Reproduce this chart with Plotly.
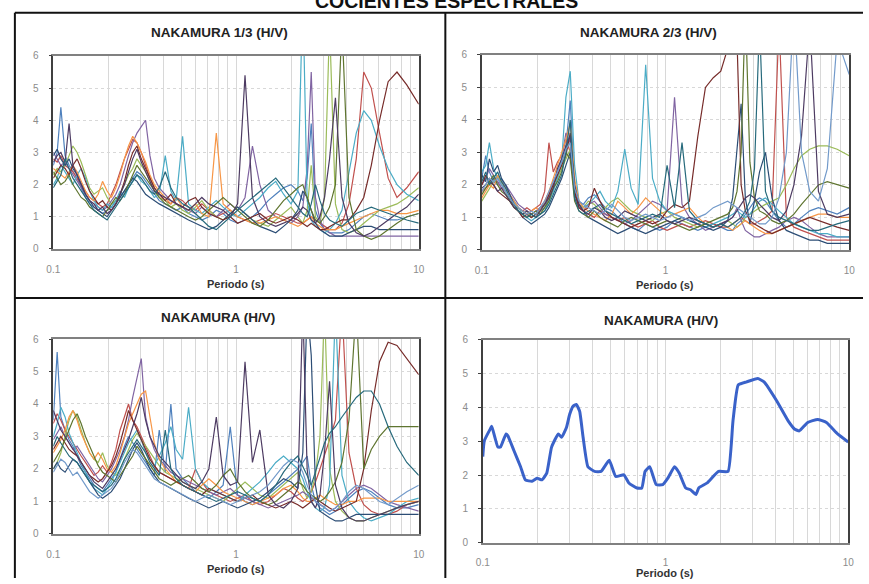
import plotly.graph_objects as go

# ---------------- DATA ----------------
PERIODS = [0.100,0.105,0.110,0.116,0.122,0.128,0.135,0.142,0.150,0.158,
           0.167,0.176,0.186,0.197,0.208,0.220,0.232,0.245,0.258,0.272,
           0.287,0.303,0.320,0.338,0.357,0.38,0.41,0.44,0.47,0.51,
           0.55,0.60,0.65,0.71,0.78,0.85,0.93,1.02,1.12,1.23,
           1.35,1.50,1.65,1.82,2.00,2.18,2.32,2.45,2.58,2.72,
           2.88,3.05,3.25,3.50,3.80,4.15,4.55,5.00,5.50,6.10,
           6.80,7.60,8.60,10.0]

# Panel 1: NAKAMURA 1/3 (H/V)
P1_A = [2.6,3.0,4.4,2.9,2.6,2.4,2.2,1.9,1.6,1.4, 1.3,1.2,1.1,1.2,1.3,1.5,1.6,1.8,2.0,2.2,
        2.4,2.3,2.1,1.9,1.7,1.5,1.4,1.3,1.2,1.3, 1.1,1.0,0.9,1.0,1.2,1.1,0.9,0.8,0.9,1.0,
        1.2,1.5,1.7,1.9,2.0,1.8,1.5,2.2,3.9,1.2, 0.8,0.6,0.5,0.5,0.5,0.6,0.8,1.0,1.1,1.0,
        0.9,0.9,1.0,1.1]
P1_B = [2.8,2.7,2.9,2.6,2.5,2.4,2.2,2.0,1.8,1.6, 1.5,1.4,1.3,1.4,1.7,2.0,2.4,2.8,3.1,3.4,
        3.3,3.0,2.6,2.2,1.9,1.7,1.5,1.4,1.6,1.5, 1.3,1.2,1.4,1.2,1.0,1.1,1.2,1.0,0.9,0.8,
        0.9,1.0,1.1,1.0,0.9,0.8,0.8,0.9,1.0,0.9, 0.8,0.7,0.6,0.6,0.8,1.4,2.8,5.5,5.0,3.6,
        2.2,1.6,1.9,2.4]
P1_C = [2.3,2.5,2.4,2.6,2.9,3.2,3.0,2.7,2.3,1.9, 1.7,1.8,1.9,1.6,1.4,1.5,1.7,2.0,2.3,2.5,
        2.8,2.6,2.4,2.1,1.8,1.6,1.5,1.3,1.4,1.2, 1.1,1.3,1.5,1.2,1.0,0.9,1.1,1.3,1.1,0.9,
        0.8,0.7,0.9,1.1,1.3,1.0,0.8,1.2,2.6,1.0, 0.8,1.6,7.0,1.4,0.6,0.5,0.6,0.8,1.0,1.2,
        1.3,1.4,1.6,1.9]
P1_D = [3.0,2.8,2.6,2.7,2.5,2.3,2.1,1.9,1.7,1.5, 1.4,1.3,1.2,1.3,1.5,1.7,2.0,2.5,2.9,3.3,
        3.6,3.8,4.0,2.9,2.2,1.9,1.7,1.5,1.4,1.3, 1.2,1.1,1.3,1.1,1.0,1.2,1.4,1.2,1.6,3.2,
        2.0,1.2,1.0,0.9,0.8,1.0,1.3,2.5,5.5,1.6, 0.9,0.6,0.5,0.4,0.4,0.4,0.4,0.4,0.4,0.4,
        0.4,0.4,0.4,0.4]
P1_E = [2.0,2.2,2.6,2.4,2.2,2.0,2.3,2.5,2.2,1.8, 1.5,1.3,1.2,1.4,1.3,1.5,1.8,1.6,1.9,2.1,
        2.3,2.1,2.0,1.8,1.6,1.7,2.9,1.8,1.5,3.5, 1.4,1.2,1.1,1.3,1.5,1.3,1.1,1.0,1.2,1.4,
        1.6,1.9,2.1,1.7,1.4,1.8,8.0,1.5,0.9,0.7, 0.6,0.5,0.6,0.8,1.2,2.4,3.6,4.3,4.0,3.2,
        2.5,2.0,1.7,1.5]
P1_F = [2.5,2.4,2.3,2.2,2.4,2.6,2.4,2.1,1.8,1.6, 1.5,1.7,2.1,1.8,1.6,1.9,2.3,2.8,3.2,3.5,
        3.3,3.0,2.7,2.3,2.0,1.8,1.6,1.4,1.6,1.3, 1.2,1.4,1.1,1.0,3.6,1.4,1.2,1.0,0.9,0.8,
        0.8,0.9,1.0,0.9,0.8,0.7,0.8,0.9,1.0,0.8, 0.7,0.6,0.6,0.6,0.7,0.8,0.9,1.0,1.1,1.2,
        1.2,1.1,1.1,1.2]
P1_G = [2.9,3.1,2.8,2.6,2.8,2.5,2.3,2.0,1.7,1.5, 1.3,1.2,1.1,1.0,1.2,1.4,1.6,1.8,2.0,2.2,
        2.1,1.9,1.7,1.6,1.5,1.4,1.3,1.2,1.1,1.0, 0.9,0.8,0.7,0.6,0.7,0.9,1.1,1.3,1.1,0.9,
        0.7,0.6,0.5,0.7,0.9,1.2,1.8,1.6,1.2,0.8, 0.6,0.5,0.4,0.4,0.4,0.5,0.6,0.7,0.7,0.6,
        0.6,0.6,0.6,0.6]
P1_H = [2.2,2.4,2.6,2.5,2.3,2.6,2.8,2.5,2.1,1.8, 1.6,1.4,1.5,1.3,1.2,1.4,1.7,2.1,2.6,3.0,
        3.2,2.8,2.5,2.2,1.9,1.7,1.5,1.7,1.4,1.3, 1.5,1.6,1.3,1.1,1.0,0.9,1.0,0.8,0.9,1.0,
        1.1,0.9,0.8,0.9,1.0,0.9,0.8,0.7,0.8,0.7, 0.6,0.6,0.7,0.8,0.9,0.9,1.2,1.6,2.6,4.0,
        5.2,5.5,5.1,4.5]
P1_I = [2.4,2.2,2.0,2.1,2.3,2.0,1.8,1.6,1.5,1.3, 1.2,1.1,1.0,1.2,1.4,1.6,1.5,1.7,2.0,2.3,
        2.6,2.4,2.2,2.0,1.8,1.6,1.4,1.3,1.2,1.1, 1.0,0.9,1.0,1.2,1.4,1.6,1.4,1.2,1.0,0.8,
        0.7,0.9,1.2,1.5,1.7,1.9,2.0,1.6,1.2,0.9, 0.8,1.0,1.3,2.0,7.0,1.6,0.6,0.4,0.3,0.4,
        0.6,0.8,1.0,1.1]
P1_J = [2.7,2.9,3.0,2.7,3.9,2.6,2.3,2.0,1.7,1.5, 1.4,1.2,1.3,1.1,1.2,1.4,1.7,2.0,2.4,2.8,
        3.1,2.7,2.4,2.1,1.8,1.7,1.6,1.5,1.4,1.3, 1.2,1.4,1.6,1.4,1.3,1.2,1.0,1.4,5.4,1.6,
        1.0,0.8,0.7,0.8,0.9,1.1,1.3,1.2,0.9,0.8, 1.0,1.6,2.8,4.7,1.6,0.8,0.5,0.4,0.5,0.7,
        0.9,1.1,1.3,1.7]
P1_K = [1.9,2.1,2.3,2.8,2.5,2.2,2.0,1.8,1.6,1.4, 1.2,1.1,1.0,0.9,1.1,1.3,1.5,1.7,1.9,2.1,
        2.3,2.2,2.0,1.8,1.7,1.9,2.4,1.9,1.6,1.4, 1.3,1.1,0.9,0.7,0.6,0.8,1.0,1.2,1.4,1.6,
        1.8,2.0,2.2,1.9,1.6,1.3,1.1,1.0,1.4,2.0, 1.5,1.1,0.9,0.8,0.7,0.9,1.1,1.2,1.3,1.2,
        1.1,1.0,0.9,0.8]

# Panel 2: NAKAMURA 2/3 (H/V)
P2_A = [2.2,2.9,2.4,2.1,2.0,2.2,1.9,1.7,1.5,1.3, 1.2,1.1,1.0,1.1,1.2,1.3,1.6,1.9,2.3,2.6,
        3.2,4.6,2.0,1.5,1.4,1.6,1.7,1.5,1.3,1.2, 1.0,0.8,0.7,0.6,0.8,0.7,0.6,0.7,0.9,0.8,
        0.7,0.6,0.7,0.8,0.7,0.6,0.6,0.8,0.9,1.1, 1.3,1.5,1.6,1.5,1.2,0.9,0.7,0.8,1.0,1.2,
        1.3,1.2,1.1,1.3]
P2_B = [1.8,1.9,2.0,2.2,2.1,1.9,1.8,1.6,1.4,1.3, 1.2,1.3,1.2,1.3,1.4,1.8,3.3,2.4,2.7,2.9,
        3.4,3.0,1.8,1.3,1.2,1.1,1.0,1.2,1.1,1.0, 0.9,1.0,0.8,0.7,0.8,0.9,0.7,0.6,0.7,0.8,
        0.7,0.8,0.9,0.8,0.7,0.7,0.8,0.9,1.0,0.9, 0.8,0.8,0.9,1.0,1.2,7.0,1.0,0.7,0.6,0.5,
        0.4,0.3,0.3,0.3]
P2_C = [1.5,1.7,1.9,2.1,2.3,2.0,1.8,1.5,1.3,1.2, 1.1,1.2,1.0,1.1,1.2,1.4,1.6,2.0,2.2,2.5,
        2.8,3.1,1.7,1.4,1.3,1.5,1.4,1.2,1.3,1.5, 1.6,1.4,1.2,1.1,1.0,0.9,1.1,1.2,1.0,0.9,
        0.8,0.7,0.8,0.7,0.8,0.9,0.8,0.7,0.8,1.0, 1.1,1.2,1.3,1.4,1.5,1.6,2.0,2.5,2.9,3.1,
        3.2,3.2,3.1,2.9]
P2_D = [2.0,2.2,2.5,2.3,2.1,1.9,2.0,1.8,1.6,1.4, 1.3,1.2,1.1,1.2,1.3,1.5,1.7,2.1,2.4,2.8,
        3.6,3.3,1.6,1.3,1.2,1.4,1.5,1.3,1.1,1.0, 0.9,0.8,0.9,1.1,1.3,1.5,1.4,1.2,4.7,1.4,
        1.0,0.8,0.6,0.7,0.8,0.9,1.0,1.3,0.9,0.6, 0.5,0.4,0.4,0.5,0.6,0.7,0.9,1.0,0.9,0.7,
        0.5,0.4,0.4,0.4]
P2_E = [2.4,2.6,3.3,2.5,2.2,2.0,1.8,1.6,1.5,1.3, 1.1,1.0,0.9,1.0,1.1,1.2,1.5,1.8,2.2,2.7,
        4.7,5.5,2.6,1.5,1.3,1.4,1.6,1.8,1.5,1.3, 1.8,3.1,1.9,1.4,5.7,2.2,1.5,1.2,1.1,1.0,
        0.9,0.8,0.7,0.8,0.9,1.0,1.1,1.2,1.1,1.0, 1.1,1.3,1.5,1.6,1.4,1.2,1.0,0.8,0.7,0.6,
        0.5,0.5,0.4,0.4]
P2_F = [1.6,1.8,2.0,1.9,2.3,2.1,1.9,1.7,1.5,1.3, 1.2,1.1,1.2,1.3,1.2,1.5,1.8,2.2,2.6,3.0,
        3.4,3.9,2.2,1.5,1.3,1.2,1.1,1.0,0.9,1.1, 1.5,1.3,1.1,1.3,1.6,1.4,1.2,1.0,1.1,1.2,
        1.3,1.0,0.8,0.7,0.8,0.7,0.6,0.7,0.8,0.9, 0.8,0.7,0.6,0.5,0.5,0.6,0.7,0.8,0.9,1.0,
        1.1,1.1,1.0,1.0]
P2_G = [2.3,2.1,2.8,2.4,2.6,2.2,2.0,1.7,1.4,1.2, 1.0,0.9,0.8,0.9,1.0,1.1,1.3,1.6,1.9,2.2,
        2.6,3.0,1.7,1.4,1.2,1.0,0.9,0.8,0.7,0.6, 0.5,0.6,0.7,0.6,0.5,0.6,0.7,0.8,0.9,1.0,
        0.9,0.8,0.7,0.6,0.7,0.9,1.6,3.2,4.5,1.6, 0.8,1.5,2.4,3.0,1.6,0.9,0.6,0.5,0.4,0.3,
        0.3,0.2,0.2,0.2]
P2_H = [2.0,2.3,2.1,2.0,1.8,1.7,1.6,1.5,1.3,1.2, 1.0,1.1,1.0,1.1,1.3,1.4,1.7,2.0,2.3,2.6,
        2.9,3.6,1.8,1.3,1.2,1.3,1.9,1.5,1.2,1.0, 0.9,0.8,0.7,0.8,0.9,0.8,0.9,1.2,1.4,1.3,
        1.5,3.5,5.0,5.3,5.5,6.2,7.0,6.5,2.0,1.2, 0.9,0.8,0.7,0.6,0.5,0.6,0.7,0.8,0.9,1.0,
        0.9,0.8,0.7,0.6]
P2_I = [1.7,1.9,2.1,2.3,2.0,1.8,1.7,1.5,1.4,1.2, 1.1,1.0,1.1,1.2,1.1,1.3,1.5,1.9,2.1,2.4,
        3.0,2.8,1.5,1.2,1.1,1.0,1.2,1.0,0.9,0.8, 0.7,0.9,1.0,0.9,0.8,0.7,0.8,0.9,0.8,0.7,
        0.6,0.7,0.8,0.9,1.0,1.1,1.3,1.8,3.0,7.5, 2.7,1.6,1.2,1.1,0.9,0.8,0.9,1.1,1.4,1.7,
        2.0,2.1,2.0,1.9]
P2_J = [1.9,2.0,2.2,2.0,1.8,1.9,1.7,1.5,1.3,1.2, 1.1,1.2,1.1,1.0,1.2,1.4,1.6,1.9,2.5,2.8,
        3.2,3.5,2.0,1.4,1.2,1.1,1.3,1.2,1.0,0.9, 1.0,1.2,1.1,1.0,0.9,1.0,1.1,0.9,0.8,0.9,
        1.0,0.9,0.8,0.7,0.8,0.9,1.0,1.2,1.4,1.6, 1.7,1.6,1.4,1.2,1.0,0.9,1.2,2.0,3.5,7.0,
        1.8,1.1,1.0,1.1]
P2_K = [2.1,2.4,2.0,2.2,2.4,2.1,1.9,1.6,1.4,1.2, 1.1,1.0,1.1,1.0,1.1,1.2,1.4,1.7,2.0,2.3,
        3.0,4.0,1.6,1.2,1.1,1.2,1.3,1.4,1.2,1.1, 1.0,0.9,0.8,0.9,1.0,1.1,1.0,2.6,1.3,3.3,
        1.2,0.9,0.8,0.7,0.8,0.7,0.8,0.9,1.0,1.2, 1.5,2.5,7.0,1.8,1.2,1.0,0.9,0.8,0.7,0.6,
        0.6,0.7,0.8,0.9]
P2_L = [1.8,2.0,2.2,2.1,2.2,2.0,1.8,1.6,1.4,1.3, 1.2,1.1,1.2,1.1,1.3,1.5,1.8,2.1,2.4,2.7,
        3.1,3.3,1.9,1.5,1.4,1.3,1.2,1.1,1.2,1.4, 1.2,1.0,0.9,1.0,1.1,1.0,0.9,1.0,1.1,1.0,
        0.9,1.0,1.1,1.3,1.4,1.5,1.4,1.3,1.2,1.1, 1.0,0.9,0.8,0.8,1.0,1.6,3.0,7.5,3.0,1.8,
        1.5,2.5,6.5,5.4]

# Panel 3: NAKAMURA (H/V)
P3_A = [3.5,5.6,3.6,3.2,2.9,2.7,2.4,2.1,1.9,1.7, 1.5,1.4,1.3,1.5,1.7,1.9,2.3,2.7,3.0,2.8,
        2.6,2.4,2.2,2.0,1.8,3.2,1.9,4.0,2.0,1.7, 1.5,1.3,1.2,1.1,1.3,1.5,3.3,1.2,1.0,0.9,
        1.0,1.2,1.4,1.6,1.8,2.0,2.2,2.4,1.5,1.0, 0.8,0.7,0.6,0.7,0.9,1.1,1.3,1.4,1.3,1.1,
        0.9,0.8,0.8,0.9]
P3_B = [3.4,3.7,3.5,3.2,3.0,2.8,2.6,2.4,2.2,2.0, 1.8,1.9,2.1,1.9,2.2,2.6,3.2,3.6,4.0,3.5,
        3.3,3.0,2.7,2.4,2.1,1.9,1.8,1.7,1.6,1.5, 1.4,2.0,1.6,1.3,1.2,1.1,1.0,1.1,1.2,1.0,
        0.9,1.0,1.2,1.4,1.3,1.1,1.0,1.1,1.3,1.6, 2.0,2.4,2.9,3.5,7.0,2.5,1.4,0.9,0.7,0.6,
        0.6,0.7,0.9,1.0]
P3_C = [2.0,2.2,2.5,3.0,3.5,3.8,3.6,3.2,2.8,2.5, 2.3,2.2,2.5,2.1,1.9,1.8,2.0,2.3,2.6,2.9,
        3.1,2.9,2.7,2.5,2.3,2.1,1.9,1.8,1.7,1.6, 1.5,1.4,1.3,1.2,1.1,1.0,1.2,1.4,1.6,1.4,
        1.2,1.1,1.3,1.5,1.7,1.9,1.4,1.1,1.3,1.8, 3.0,7.0,2.0,1.0,0.7,0.5,0.4,0.4,0.5,0.6,
        0.7,0.8,0.9,1.0]
P3_D = [2.9,3.1,3.3,3.0,2.8,2.6,2.7,2.5,2.3,2.1, 1.9,1.7,1.6,1.8,2.0,2.3,2.6,3.0,3.5,4.2,
        4.8,5.4,3.6,3.0,2.6,2.3,2.1,1.9,1.8,1.7, 1.6,1.5,1.4,1.3,1.2,1.3,1.4,1.2,1.1,1.0,
        0.9,0.8,0.9,1.0,1.1,1.2,1.3,1.2,1.1,1.0, 0.9,0.8,0.7,0.8,1.0,1.2,1.4,1.5,1.4,1.2,
        1.0,0.9,0.8,0.7]
P3_E = [3.0,3.4,3.9,3.6,3.1,2.8,2.5,2.2,1.9,1.6, 1.4,1.3,1.2,1.4,1.6,1.9,2.2,2.5,2.8,3.0,
        3.2,2.9,2.5,2.3,2.1,2.4,2.8,3.3,2.6,2.3, 3.9,2.0,1.6,1.4,1.3,1.2,1.1,1.0,1.2,1.4,
        1.6,1.9,2.2,2.4,2.2,2.0,1.7,1.3,1.0,0.8, 0.7,0.8,1.5,7.0,1.8,1.0,0.7,0.5,0.4,0.5,
        0.6,0.8,1.0,1.1]
P3_F = [2.5,2.7,2.9,3.2,3.6,3.8,3.5,3.1,2.8,2.5, 2.3,2.5,2.3,2.0,1.9,2.1,2.5,3.0,3.4,3.7,
        4.0,4.3,4.4,3.6,2.8,2.3,2.0,1.8,1.6,1.5, 1.4,1.3,1.5,1.7,1.5,1.3,1.2,1.1,1.0,0.9,
        1.0,1.1,1.2,1.4,1.5,1.3,1.1,1.0,1.0,1.1, 1.2,1.1,1.0,0.9,0.9,1.0,1.0,1.1,1.1,1.1,
        1.0,1.0,1.0,1.0]
P3_G = [2.0,2.2,2.0,1.9,2.1,2.3,2.2,2.0,1.8,1.6, 1.4,1.2,1.1,1.2,1.3,1.5,1.7,2.0,2.3,2.6,
        2.8,2.6,2.3,2.0,1.8,1.6,1.5,1.4,1.3,1.2, 1.1,1.0,0.9,0.8,0.9,1.0,0.9,0.8,0.9,1.0,
        1.1,1.3,1.5,1.7,1.6,1.4,2.5,7.0,5.5,1.5, 0.7,0.6,0.5,0.4,0.4,0.5,0.6,0.6,0.6,0.6,
        0.6,0.6,0.6,0.6]
P3_H = [2.6,2.8,3.0,2.8,2.6,2.5,2.4,2.2,2.0,1.8, 1.7,1.6,1.7,1.9,2.1,2.4,2.8,3.3,3.8,3.5,
        3.2,2.9,2.6,2.3,2.1,1.9,1.8,1.7,1.6,1.5, 1.4,1.3,1.2,1.4,1.3,1.2,1.1,1.0,1.1,1.2,
        1.0,0.9,0.8,0.9,1.0,0.9,0.8,0.9,1.0,1.1, 1.0,0.9,0.8,0.7,0.8,0.9,1.0,2.0,3.8,5.3,
        5.9,5.8,5.4,4.9]
P3_I = [2.2,2.4,2.6,2.9,3.2,3.5,3.7,3.4,3.0,2.7, 2.4,2.1,1.9,1.8,1.7,1.6,1.8,2.0,2.2,2.4,
        2.7,2.5,2.3,2.1,1.9,1.7,1.6,1.5,1.6,1.7, 1.8,1.6,1.4,1.3,1.5,1.8,2.0,1.6,1.3,1.1,
        1.0,0.9,1.0,1.2,1.4,1.6,1.5,1.3,1.2,1.1, 1.0,1.1,1.3,1.6,2.2,3.5,7.0,2.0,2.6,3.0,
        3.3,3.3,3.3,3.3]
P3_J = [3.8,3.5,3.2,3.0,2.8,2.6,2.4,2.2,2.0,1.8, 1.6,1.5,1.4,1.6,1.8,2.0,2.3,2.6,2.9,3.3,
        3.7,4.2,3.5,3.0,2.7,2.4,2.2,2.0,1.8,1.6, 1.5,1.4,1.6,2.0,3.6,1.8,1.5,1.6,5.3,2.2,
        3.2,1.2,0.9,0.8,1.0,1.4,7.0,2.0,1.0,0.8, 1.2,2.5,4.7,1.5,0.8,0.5,0.4,0.4,0.5,0.6,
        0.7,0.8,0.9,1.0]
P3_K = [2.7,3.0,2.8,2.6,2.4,2.3,2.2,2.0,1.8,1.6, 1.5,1.4,1.3,1.4,1.5,1.7,2.0,2.3,2.5,2.7,
        2.9,2.7,2.5,2.2,2.0,1.8,3.2,2.0,1.7,1.5, 1.4,1.3,1.2,1.1,1.0,1.1,1.2,1.3,1.2,1.1,
        1.0,1.2,1.5,1.9,2.2,2.4,2.1,1.8,1.5,1.9, 2.4,2.8,3.1,3.3,3.6,3.9,4.2,4.4,4.4,4.0,
        3.3,2.7,2.2,1.8]
P3_L = [1.9,2.1,2.3,2.2,2.0,1.8,1.9,1.7,1.5,1.3, 1.2,1.1,1.2,1.3,1.4,1.6,1.9,2.2,2.4,2.6,
        2.5,2.3,2.1,1.9,1.7,1.6,1.5,1.4,1.3,1.2, 1.1,1.0,1.1,1.2,1.1,1.0,0.9,1.0,1.1,1.2,
        1.3,1.5,1.8,2.1,2.3,2.2,1.9,1.5,1.2,1.0, 0.9,0.8,0.7,0.8,1.0,1.3,1.5,1.4,1.2,1.0,
        0.9,1.1,1.3,1.5]

# Panel 4: NAKAMURA (H/V) - average
AVG_PERIOD = [0.100,0.102,0.111,0.112,0.121,0.125,0.134,0.137,0.148,0.161,0.171,0.186,0.198,
              0.211,0.224,0.238,0.259,0.270,0.287,0.299,0.312,0.325,0.339,0.354,0.376,0.409,
              0.444,0.492,0.534,0.592,0.630,0.698,0.742,0.773,0.820,0.890,0.966,1.03,1.12,
              1.19,1.29,1.37,1.47,1.52,1.69,1.95,2.20,2.34,2.50,2.78,3.20,3.46,4.08,4.70,
              5.10,5.40,6.00,6.80,7.60,8.75,10.0]
AVG_HV = [2.55,3.02,3.41,3.45,2.83,2.83,3.22,3.17,2.73,2.25,1.86,1.82,1.91,
          1.86,2.06,2.83,3.22,3.12,3.41,3.80,4.04,4.09,3.89,3.12,2.25,2.11,
          2.11,2.44,1.96,2.01,1.77,1.62,1.62,2.11,2.25,1.72,1.72,1.91,2.25,
          2.06,1.62,1.57,1.43,1.62,1.77,2.11,2.11,3.60,4.67,4.76,4.86,4.76,4.18,3.60,
          3.36,3.31,3.56,3.65,3.56,3.22,2.98]

PANEL_TITLES = ["NAKAMURA 1/3 (H/V)", "NAKAMURA 2/3 (H/V)", "NAKAMURA (H/V)", "NAKAMURA (H/V)"]
MAIN_TITLE = "COCIENTES ESPECTRALES"
X_TITLE = "Periodo (s)"
X_GRID_VALUES = [0.1,0.2,0.3,0.4,0.5,0.6,0.7,0.8,0.9,1,2,3,4,5,6,7,8,9,10]
X_GRID_TEXT = ["0.1","","","","","","","","","1","","","","","","","","","10"]
Y_TICKS = [0,1,2,3,4,5,6]

PANEL1 = [P1_A,P1_B,P1_C,P1_D,P1_E,P1_F,P1_G,P1_H,P1_I,P1_J,P1_K]
PANEL2 = [P2_A,P2_B,P2_C,P2_D,P2_E,P2_F,P2_G,P2_H,P2_I,P2_J,P2_K,P2_L]
PANEL3 = [P3_A,P3_B,P3_C,P3_D,P3_E,P3_F,P3_G,P3_H,P3_I,P3_J,P3_K,P3_L]

COLORS = ['#4F81BD','#C0504D','#9BBB59','#8064A2','#4BACC6','#F79646',
          '#2C4D75','#772C2A','#5F7530','#4D3B62','#276A7C','#729ACA']

# ---------------- FIGURE ----------------
W, H = 869, 584
def px(x): return x / W
def py(y): return 1 - y / H

fig = go.Figure()

panels = [
    dict(x0=47, x1=418, yt=51, yb=248, tx=216, ty=27, xt=284),
    dict(x0=482, x1=855, yt=50, yb=249, tx=651, ty=27, xt=285),
    dict(x0=47, x1=418, yt=340, yb=539, tx=214, ty=318, xt=575),
    dict(x0=483, x1=854, yt=341, yb=548, tx=664, ty=321, xt=579),
]

data_sets = [PANEL1, PANEL2, PANEL3]
for k, series in enumerate(data_sets):
    xa = 'x' if k == 0 else f'x{k+1}'
    ya = 'y' if k == 0 else f'y{k+1}'
    for i, ys in enumerate(series):
        fig.add_trace(go.Scatter(x=PERIODS, y=ys, mode='lines', xaxis=xa, yaxis=ya,
                                 line=dict(color=COLORS[i % len(COLORS)], width=1.2),
                                 showlegend=False, hoverinfo='skip'))

fig.add_trace(go.Scatter(x=AVG_PERIOD, y=AVG_HV, mode='lines', xaxis='x4', yaxis='y4',
                         line=dict(color='#3A62C9', width=3, shape='spline', smoothing=0.4),
                         showlegend=False))

font_fam = "Liberation Sans, Arial, sans-serif"
layout = dict(width=W, height=H, margin=dict(l=0, r=0, t=0, b=0),
              paper_bgcolor='white', plot_bgcolor='white', showlegend=False)

annotations = []
for k, p in enumerate(panels):
    sfx = '' if k == 0 else str(k + 1)
    layout['xaxis' + sfx] = dict(
        type='log', range=[-1, 1], domain=[px(p['x0']), px(p['x1'])],
        anchor='y' + sfx, tickmode='array', tickvals=X_GRID_VALUES, ticktext=X_GRID_TEXT,
        showgrid=True, gridcolor='#D8D8D8', gridwidth=1, ticks='',
        showline=True, linecolor='#808080', linewidth=1.5, mirror=True,
        tickfont=dict(family=font_fam, size=10, color='#8C8C8C'), ticklabelstandoff=10,
        zeroline=False, fixedrange=True)
    layout['yaxis' + sfx] = dict(
        range=[0, 6], domain=[py(p['yb']), py(p['yt'])], anchor='x' + sfx,
        tickmode='array', tickvals=Y_TICKS, showgrid=True, gridcolor='#D8D8D8',
        griddash='dot', ticks='outside', ticklen=3, tickcolor='#404040',
        showline=True, linecolor='#404040', linewidth=1.5, mirror=True,
        tickfont=dict(family=font_fam, size=10, color='#8C8C8C'), ticklabelstandoff=8,
        zeroline=False, fixedrange=True)
    annotations.append(dict(text=f"<b>{PANEL_TITLES[k]}</b>", x=px(p['tx']), y=py(p['ty']),
                            xref='paper', yref='paper', showarrow=False,
                            xanchor='center', yanchor='middle',
                            font=dict(family=font_fam, size=13.5, color='#222222')))
    annotations.append(dict(text=f"<b>{X_TITLE}</b>", x=px((p['x0'] + p['x1']) / 2), y=py(p['xt']),
                            xref='paper', yref='paper', showarrow=False,
                            xanchor='center', yanchor='middle',
                            font=dict(family=font_fam, size=11, color='#333333')))

annotations.append(dict(text=f"<b>{MAIN_TITLE}</b>", x=px(446), y=py(8),
                        xref='paper', yref='paper', showarrow=False,
                        xanchor='center', yanchor='bottom',
                        font=dict(family=font_fam, size=19.5, color='#111111')))
layout['annotations'] = annotations

line_style = dict(color='#111111', width=2)
layout['shapes'] = [
    dict(type='line', xref='paper', yref='paper', x0=px(8), x1=1, y0=py(7), y1=py(7), line=line_style),
    dict(type='line', xref='paper', yref='paper', x0=px(8), x1=px(8), y0=py(7), y1=0, line=line_style),
    dict(type='line', xref='paper', yref='paper', x0=px(445), x1=px(445), y0=py(7), y1=0, line=line_style),
    dict(type='line', xref='paper', yref='paper', x0=px(8), x1=1, y0=py(298), y1=py(298), line=line_style),
]

fig.update_layout(**layout)
fig.write_html("out.html", config={'displayModeBar': False},
               post_script="document.body.style.margin='0';document.body.style.padding='0';")
